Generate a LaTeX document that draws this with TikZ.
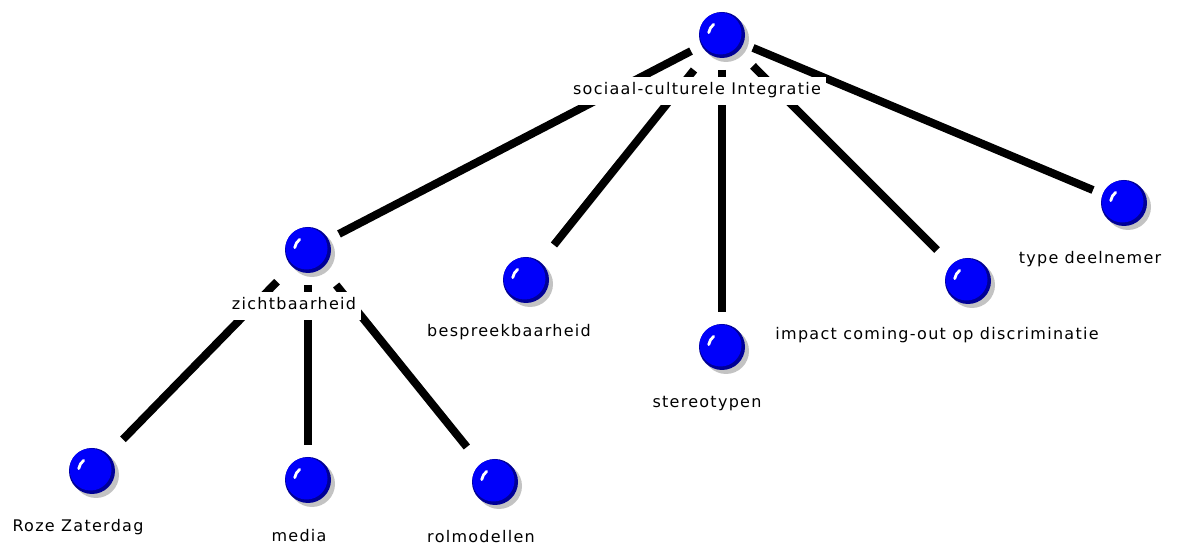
\documentclass[tikz,border=0pt]{standalone}
\usepackage{fontspec}
\setmainfont{DejaVu Sans}
\newfontfamily\lblfont[LetterSpace=8]{DejaVu Sans}
\definecolor{ballblue}{RGB}{0,0,250}
\definecolor{balldark}{RGB}{0,0,150}
\definecolor{shadowgray}{RGB}{195,195,195}
\tikzset{
  hitbox/.style={rectangle, minimum width=62pt, minimum height=70pt, inner sep=0pt, outer sep=0pt},
  edge/.style={line width=8pt, black},
  lbl/.style={font=\lblfont\fontsize{16}{19}\selectfont, anchor=base, inner xsep=5pt, inner ysep=6pt, text height=12pt, text depth=4pt},
  boxlbl/.style={lbl, fill=white},
  ball/.pic={
    \fill[shadowgray] (4,-4) circle (23);
    \fill[balldark] (0,0) circle (23);
    \fill[ballblue] (-1.5,1.5) circle (21);
    \draw[white, line width=2.8pt, line cap=round] (170:13.5) arc[start angle=170, end angle=128, radius=13.5];
  }
}
\begin{document}
\begin{tikzpicture}[x=1pt,y=1pt]
\useasboundingbox (0,0) rectangle (1189,548);
% node positions
\node[hitbox] (root) at (722,513) {};
\node[hitbox] (zicht) at (308,298) {};
\node[hitbox] (bespreek) at (526,268) {};
\node[hitbox] (stereo) at (722,201) {};
\node[hitbox] (impact) at (968,267) {};
\node[hitbox] (type) at (1124,345) {};
\node[hitbox] (roze) at (92,77) {};
\node[hitbox] (media) at (308,68) {};
\node[hitbox] (rol) at (495,66) {};
% connectors
\draw[edge] (root) -- (zicht);
\draw[edge] (root) -- (bespreek);
\draw[edge] (root) -- (stereo);
\draw[edge] (root) -- (impact);
\draw[edge] (root) -- (type);
\draw[edge] (zicht) -- (roze);
\draw[edge] (zicht) -- (media);
\draw[edge] (zicht) -- (rol);
% balls
\foreach \n in {root,zicht,bespreek,stereo,impact,type,roze,media,rol}
  \pic at (\n) {ball};
% labels
\node[boxlbl] (lroot) at (697,453) {sociaal-culturele Integratie};
\node[boxlbl] (lzicht) at (294,238) {zichtbaarheid};
\node[lbl] (lbespreek) at (509,211) {bespreekbaarheid};
\node[lbl] (lstereo) at (707,140) {stereotypen};
\node[lbl] (limpact) at (937,208) {impact coming-out op discriminatie};
\node[lbl] (ltype) at (1090,284) {type deelnemer};
\node[lbl] (lroze) at (78,16) {Roze Zaterdag};
\node[lbl] (lmedia) at (299,6) {media};
\node[lbl] (lrol) at (481,5) {rolmodellen};
\end{tikzpicture}
\end{document}
